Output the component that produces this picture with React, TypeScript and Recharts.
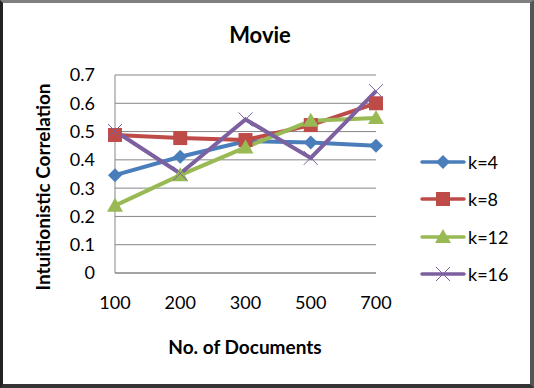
import React from 'react';
import { LineChart, Line, XAxis, YAxis, CartesianGrid, Legend } from 'recharts';

const docs = ['100', '200', '300', '500', '700'];
const k4 = [0.346, 0.411, 0.466, 0.461, 0.45];
const k8 = [0.488, 0.477, 0.47, 0.523, 0.6];
const k12 = [0.238, 0.346, 0.444, 0.538, 0.548];
const k16 = [0.502, 0.352, 0.543, 0.407, 0.643];
const yTicks = [0, 0.1, 0.2, 0.3, 0.4, 0.5, 0.6, 0.7];

const data = docs.map((d, i) => ({ docs: d, k4: k4[i], k8: k8[i], k12: k12[i], k16: k16[i] }));

const FONT = 'Lato, "Open Sans", sans-serif';

type Shape = 'diamond' | 'square' | 'triangle' | 'cross';

const series: { key: string; name: string; color: string; shape: Shape }[] = [
  { key: 'k4', name: 'k=4', color: '#4A7EBB', shape: 'diamond' },
  { key: 'k8', name: 'k=8', color: '#BE4B48', shape: 'square' },
  { key: 'k12', name: 'k=12', color: '#98B954', shape: 'triangle' },
  { key: 'k16', name: 'k=16', color: '#7D60A0', shape: 'cross' },
];

const Marker = ({ cx, cy, shape, color }: { cx: number; cy: number; shape: Shape; color: string }) => {
  if (cx == null || cy == null) return null;
  if (shape === 'diamond') {
    const r = 7;
    return <path d={`M${cx},${cy - r}L${cx + r},${cy}L${cx},${cy + r}L${cx - r},${cy}Z`} fill={color} />;
  }
  if (shape === 'square') {
    return <rect x={cx - 7} y={cy - 7} width={14} height={14} fill={color} />;
  }
  if (shape === 'triangle') {
    return <path d={`M${cx},${cy - 8}L${cx + 8},${cy + 6}L${cx - 8},${cy + 6}Z`} fill={color} />;
  }
  return (
    <path
      d={`M${cx - 7},${cy - 7}L${cx + 7},${cy + 7}M${cx + 7},${cy - 7}L${cx - 7},${cy + 7}`}
      stroke={color}
      strokeWidth={1}
      fill="none"
    />
  );
};

const LegendBox = () => (
  <div style={{ fontFamily: FONT, fontSize: 18, color: '#000' }}>
    {series.map((s) => (
      <div key={s.key} style={{ display: 'flex', alignItems: 'center', height: 37.5 }}>
        <svg width={46} height={20}>
          <line x1={2} y1={10} x2={44} y2={10} stroke={s.color} strokeWidth={3.5} strokeLinecap="round" />
          <Marker cx={23} cy={10} shape={s.shape} color={s.color} />
        </svg>
        <span style={{ marginLeft: 2 }}>{s.name}</span>
      </div>
    ))}
  </div>
);

export default function App() {
  return (
    <div
      style={{
        position: 'absolute',
        left: 0,
        top: 0,
        width: 534,
        height: 388,
        boxSizing: 'border-box',
        borderTop: '3px solid #7f7f7f',
        borderRight: '4px solid #555',
        borderBottom: '4px solid #333',
        borderLeft: '3px solid #222',
        background: '#fff',
        overflow: 'hidden',
      }}
    >
      <div style={{ position: 'absolute', left: -3, top: -3 }}>
        <LineChart
          width={534}
          height={388}
          data={data}
          margin={{ top: 75, right: 48, bottom: 85, left: 0 }}
        >
          <text x={260} y={43} textAnchor="middle" fontFamily={FONT} fontWeight="bold" fontSize={22} fill="#000">
            Movie
          </text>
          <text
            x={0}
            y={0}
            transform="translate(50,187) rotate(-90)"
            textAnchor="middle"
            fontFamily={FONT}
            fontWeight="bold"
            fontSize={19}
            fill="#000"
          >
            Intuitionistic Correlation
          </text>
          <text x={245} y={354} textAnchor="middle" fontFamily={FONT} fontWeight="bold" fontSize={19} fill="#000">
            No. of Documents
          </text>
          <CartesianGrid vertical={false} stroke="#868686" strokeWidth={1} />
          <XAxis
            dataKey="docs"
            height={30}
            stroke="#868686"
            tickLine={false}
            tickSize={6}
            tickMargin={17}
            tick={{ fill: '#000', fontFamily: FONT, fontSize: 18 }}
          />
          <YAxis
            width={115}
            domain={[0, 0.7]}
            ticks={yTicks}
            stroke="#868686"
            tickLine={false}
            tickSize={6}
            tickMargin={14}
            tick={{ fill: '#000', fontFamily: FONT, fontSize: 18 }}
          />
          <Legend
            layout="vertical"
            align="right"
            verticalAlign="top"
            width={110}
            wrapperStyle={{ top: 143, left: 420, right: 'auto', width: 110 }}
            content={() => <LegendBox />}
          />
          {series.map((s) => (
            <Line
              key={s.key}
              dataKey={s.key}
              name={s.name}
              stroke={s.color}
              strokeWidth={4}
              isAnimationActive={false}
              dot={(p: any) => <Marker key={`${s.key}-${p.index}`} cx={p.cx} cy={p.cy} shape={s.shape} color={s.color} />}
              activeDot={false}
            />
          ))}
        </LineChart>
      </div>
    </div>
  );
}
